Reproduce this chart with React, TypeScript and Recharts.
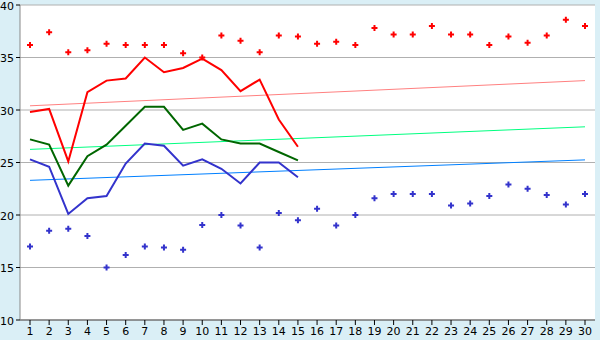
import {
  ComposedChart,
  Line,
  XAxis,
  YAxis,
  CartesianGrid,
} from "recharts";

const days = Array.from({ length: 30 }, (_, i) => String(i + 1));

// daily max / min readings (scatter points)
const maxPoints = [
  36.2, 37.4, 35.5, 35.7, 36.3, 36.2, 36.2, 36.2, 35.4, 35.0,
  37.1, 36.6, 35.5, 37.1, 37.0, 36.3, 36.5, 36.2, 37.8, 37.2,
  37.2, 38.0, 37.2, 37.2, 36.2, 37.0, 36.4, 37.1, 38.6, 38.0,
];
const minPoints = [
  17.0, 18.5, 18.7, 18.0, 15.0, 16.2, 17.0, 16.9, 16.7, 19.05,
  20.0, 19.0, 16.9, 20.2, 19.5, 20.6, 19.0, 20.0, 21.6, 22.0,
  22.0, 22.0, 20.9, 21.1, 21.8, 22.9, 22.5, 21.9, 21.0, 22.0,
];

// measured series (first 15 days only)
const redLine = [29.8, 30.1, 25.1, 31.7, 32.8, 33.0, 35.0, 33.6, 34.0, 34.9, 33.8, 31.8, 32.9, 29.1, 26.5];
const greenLine = [27.2, 26.7, 22.8, 25.6, 26.7, 28.5, 30.3, 30.3, 28.1, 28.7, 27.2, 26.8, 26.8, 26.0, 25.2];
const blueLine = [25.3, 24.6, 20.1, 21.6, 21.8, 24.9, 26.8, 26.6, 24.7, 25.3, 24.4, 23.0, 25.0, 25.0, 23.6];

// trend lines: start (day 1) and end (day 30)
const redTrend = [30.4, 32.8];
const greenTrend = [26.25, 28.4];
const blueTrend = [23.3, 25.25];

const yTicks = [10, 15, 20, 25, 30, 35, 40];

const data = days.map((day, i) => ({
  day,
  max: maxPoints[i],
  min: minPoints[i],
  red: i < redLine.length ? redLine[i] : null,
  green: i < greenLine.length ? greenLine[i] : null,
  blue: i < blueLine.length ? blueLine[i] : null,
  redTrend: i === 0 ? redTrend[0] : i === days.length - 1 ? redTrend[1] : null,
  greenTrend: i === 0 ? greenTrend[0] : i === days.length - 1 ? greenTrend[1] : null,
  blueTrend: i === 0 ? blueTrend[0] : i === days.length - 1 ? blueTrend[1] : null,
}));

const plusDot = (color: string) => (props: any) => {
  const { cx, cy, index } = props;
  if (cx == null || cy == null) return <g key={index} />;
  return (
    <path
      key={index}
      d={`M${cx - 1},${cy - 3}h2v2h2v2h-2v2h-2v-2h-2v-2h2z`}
      fill={color}
      stroke="none"
    />
  );
};

export default function App() {
  return (
    <div style={{ width: 600, height: 340, background: "#daeff6", fontFamily: "DejaVu Sans, Verdana, sans-serif" }}>
      <style>{`body{margin:0}`}</style>
      <ComposedChart width={600} height={340} data={data} margin={{ top: 5, right: 5, bottom: 0, left: 0 }}>
        <CartesianGrid vertical={false} stroke="#b0b0b0" fill="#ffffff" />
        <XAxis
          dataKey="day"
          padding={{ left: 10, right: 10 }}
          tickLine={{ stroke: "#000" }}
          tickSize={5}
          axisLine={{ stroke: "#555" }}
          tick={{ fill: "#000", fontSize: 11 }}
          height={20}
          interval={0}
        />
        <YAxis
          domain={[10, 40]}
          ticks={yTicks}
          width={20}
          tickSize={4}
          tickLine={{ stroke: "#000" }}
          axisLine={{ stroke: "#888" }}
          tick={{ fill: "#000", fontSize: 11, dy: 1 }}
          interval={0}
        />
        <YAxis
          yAxisId="border"
          orientation="right"
          domain={[10, 40]}
          width={0}
          tick={false}
          tickLine={false}
          axisLine={{ stroke: "#b0b0b0", strokeWidth: 2 }}
        />
        <Line dataKey="redTrend" stroke="#ff8080" strokeWidth={1} dot={false} connectNulls isAnimationActive={false} />
        <Line dataKey="greenTrend" stroke="#00ff80" strokeWidth={1} dot={false} connectNulls isAnimationActive={false} />
        <Line dataKey="blueTrend" stroke="#0080ff" strokeWidth={1} dot={false} connectNulls isAnimationActive={false} />
        <Line dataKey="red" stroke="#ff0000" strokeWidth={2} dot={false} isAnimationActive={false} />
        <Line dataKey="green" stroke="#006600" strokeWidth={2} dot={false} isAnimationActive={false} />
        <Line dataKey="blue" stroke="#3333cc" strokeWidth={2} dot={false} isAnimationActive={false} />
        <Line dataKey="max" stroke="none" dot={plusDot("#ff0000")} activeDot={false} isAnimationActive={false} />
        <Line dataKey="min" stroke="none" dot={plusDot("#3333cc")} activeDot={false} isAnimationActive={false} />
      </ComposedChart>
    </div>
  );
}
